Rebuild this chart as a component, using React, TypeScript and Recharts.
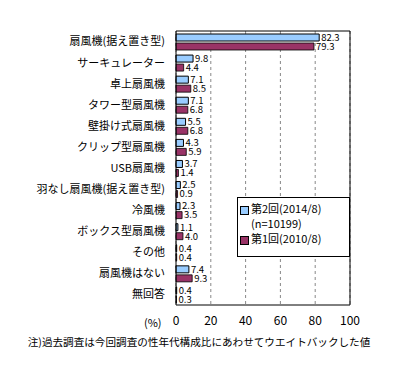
import React from "react";
import {
  BarChart,
  Bar,
  XAxis,
  YAxis,
  CartesianGrid,
  LabelList,
  ReferenceLine,
} from "recharts";

const categories = [
  "扇風機(据え置き型)",
  "サーキュレーター",
  "卓上扇風機",
  "タワー型扇風機",
  "壁掛け式扇風機",
  "クリップ型扇風機",
  "USB扇風機",
  "羽なし扇風機(据え置き型)",
  "冷風機",
  "ボックス型扇風機",
  "その他",
  "扇風機はない",
  "無回答",
];
const survey2 = [82.3, 9.8, 7.1, 7.1, 5.5, 4.3, 3.7, 2.5, 2.3, 1.1, 0.4, 7.4, 0.4];
const survey1 = [79.3, 4.4, 8.5, 6.8, 6.8, 5.9, 1.4, 0.9, 3.5, 4.0, 0.4, 9.3, 0.3];
const xTicks = [0, 20, 40, 60, 80, 100];

const BLUE = "#99ccff";
const RED = "#993366";
const FONT = '"Noto Sans CJK JP", sans-serif';

const data = categories.map((name, i) => ({
  name,
  s2: survey2[i],
  s1: survey1[i],
}));

function LegendBox() {
  const sq = (c: string) => (
    <span
      style={{
        display: "inline-block",
        width: 7,
        height: 7,
        background: c,
        border: "1px solid #000",
        marginRight: 2,
        verticalAlign: "middle",
      }}
    />
  );
  return (
    <div
      style={{
        position: "absolute",
        left: 237,
        top: 197,
        width: 113,
        height: 60,
        border: "1px solid #000",
        background: "#fff",
        boxSizing: "border-box",
        fontSize: 11,
        lineHeight: "15px",
        color: "#000",
        padding: "3px 0 0 2px",
      }}
    >
      <div>{sq(BLUE)}第2回(2014/8)</div>
      <div style={{ paddingLeft: 11 }}>(n=10199)</div>
      <div>{sq(RED)}第1回(2010/8)</div>
    </div>
  );
}

const fmt = (v: any) => Number(v).toFixed(1);

export default function App() {
  return (
    <div style={{ position: "absolute", left: 0, top: 0, width: 398, height: 373, fontFamily: FONT, background: "#fff" }}>
      <BarChart
        width={398}
        height={373}
        data={data}
        layout="vertical"
        margin={{ top: 30, right: 48, bottom: 48, left: 0 }}
        barSize={7}
        barGap={2}
        style={{ fontFamily: FONT }}
      >
        <CartesianGrid horizontal={false} stroke="#888" strokeDasharray="3 3" />
        <XAxis
          type="number"
          domain={[0, 100]}
          ticks={xTicks}
          tickLine={false}
          axisLine={{ stroke: "#000" }}
          tickSize={0}
          tickMargin={11}
          height={20}
          tick={{ fill: "#000", fontSize: 12 }}
        />
        <XAxis
          xAxisId="top"
          orientation="top"
          type="number"
          domain={[0, 100]}
          ticks={xTicks}
          height={1}
          tickSize={-3}
          tick={false}
          tickLine={{ stroke: "#000" }}
          axisLine={{ stroke: "#000" }}
        />
        <YAxis
          type="category"
          dataKey="name"
          width={176}
          tickLine={false}
          tickSize={0}
          tickMargin={11}
          axisLine={{ stroke: "#000" }}
          interval={0}
          tick={{ fill: "#000", fontSize: 11 }}
        />
        <ReferenceLine x={100} stroke="#000" />
        <Bar dataKey="s2" fill={BLUE} stroke="#000" strokeWidth={1} isAnimationActive={false}>
          <LabelList dataKey="s2" position="right" offset={2} fill="#000" fontSize={9.5} formatter={fmt} />
        </Bar>
        <Bar dataKey="s1" fill={RED} stroke="#000" strokeWidth={0.8} isAnimationActive={false}>
          <LabelList dataKey="s1" position="right" offset={2} fill="#000" fontSize={9.5} formatter={fmt} />
        </Bar>
      </BarChart>
      <LegendBox />
      <div style={{ position: "absolute", left: 144, top: 314, fontSize: 11, color: "#000" }}>(%)</div>
      <div style={{ position: "absolute", left: 0, width: 398, top: 334, fontSize: 10.6, textAlign: "center", color: "#000" }}>
        注)過去調査は今回調査の性年代構成比にあわせてウエイトバックした値
      </div>
    </div>
  );
}
